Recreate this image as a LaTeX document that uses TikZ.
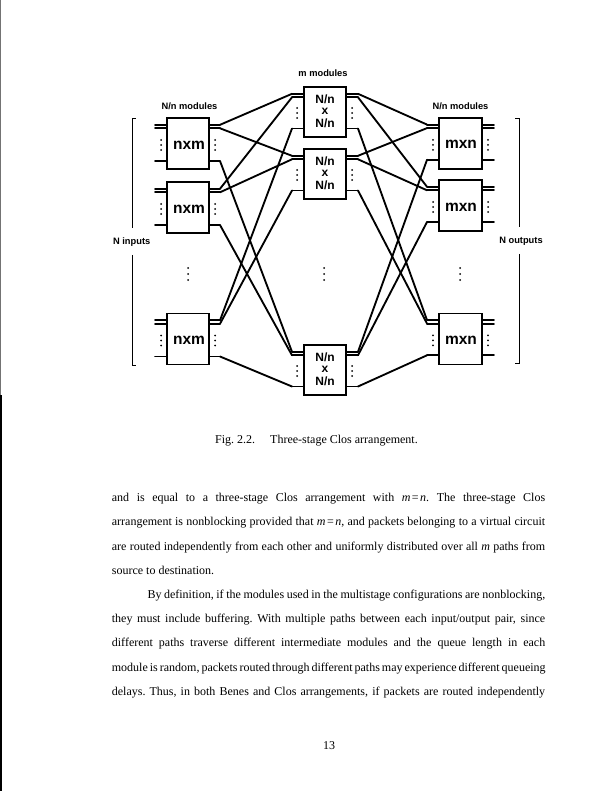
\documentclass[tikz,border=0pt]{standalone}
\usepackage{fontspec}
\setmainfont{Liberation Serif}
\setsansfont{Liberation Sans}
\newcommand{\meqn}{\textit{m}\kern1.5pt=\kern1.5pt\textit{n}}
\begin{document}
\frenchspacing
\begin{tikzpicture}[x=1pt,y=-1pt,
  modbox/.style={draw, line width=1.5pt, minimum width=42pt, minimum height=51pt, inner sep=0pt},
  midbox/.style={modbox, minimum height=50pt},
  wire/.style={line width=1.85pt, line cap=round},
  lbl/.style={font=\sffamily\bfseries\fontsize{9.3}{11}\selectfont, inner sep=0pt},
  big/.style={font=\sffamily\bfseries\fontsize{15.5}{16}\selectfont, inner sep=0pt},
  midtxt/.style={font=\sffamily\bfseries\fontsize{12}{12}\selectfont, inner sep=0pt, anchor=base},
  body/.style={font=\fontsize{12}{14}\selectfont, inner sep=0pt, anchor=base west},
  brk/.style={line width=0.9pt},
  dotc/.style={fill=black}]
\useasboundingbox (0,0) rectangle (612,791);
\fill[white] (0,0) rectangle (612,791);

% scan edge
\draw[line width=1.2pt, black!55] (0.8,0) -- (0.8,395);
\draw[line width=2.4pt] (1.2,395) -- (1.2,791);

% ---------- left modules ----------
\foreach \i/\cy in {1/143.5,2/207.5,3/339}{
  \node[modbox] (L\i) at (188,\cy) {};
  \node[big] (tL\i) at (189,\cy+1.5) {nxm};
  \foreach \k/\dy in {1/-18.7,2/-15.2,3/17.5}{
    \coordinate (Lin\i\k) at (155,{\cy+(\dy)});
    \coordinate (Lx\i\k) at (209,{\cy+(\dy)});
    \coordinate (Lo\i\k) at (220,{\cy+(\dy)});
    \draw[wire] (Lin\i\k) -- ++(12,0);
    \draw[wire] (Lx\i\k) -- (Lo\i\k);
  }
  \foreach \d in {-5,0,5}{
    \fill (161,{\cy+1.5+\d}) circle (1pt);
    \fill (215,{\cy+1.5+\d}) circle (1pt);
  }
}

% ---------- middle modules ----------
\foreach \j/\cy in {1/112,2/174,3/370}{
  \node[midbox] (M\j) at (325,\cy) {};
  \node[midtxt] (tMa\j) at (325,\cy-8.6) {N/n};
  \node[midtxt] (tMb\j) at (325,\cy+2.3) {x};
  \node[midtxt] (tMc\j) at (325,\cy+15.4) {N/n};
  \foreach \k/\dy in {1/-18.2,2/-14.7,3/16.5}{
    \coordinate (Mi\j\k) at (292,{\cy+(\dy)});
    \coordinate (Mxi\j\k) at (304,{\cy+(\dy)});
    \coordinate (Mxo\j\k) at (346,{\cy+(\dy)});
    \coordinate (Mo\j\k) at (358,{\cy+(\dy)});
    \draw[wire] (Mi\j\k) -- (Mxi\j\k);
    \draw[wire] (Mxo\j\k) -- (Mo\j\k);
  }
  \foreach \d in {-5,0,5}{
    \fill (297,{\cy+1+\d}) circle (1pt);
    \fill (352,{\cy+1+\d}) circle (1pt);
  }
}

% ---------- right modules ----------
\foreach \j/\cy in {1/143.3,2/205.5,3/338.8}{
  \node[modbox, minimum width=43pt] (R\j) at (460.5,\cy) {};
  \node[big] (tR\j) at (461,\cy+1.5) {mxn};
  \foreach \k/\dy in {1/-18.7,2/-15.2,3/16.5}{
    \coordinate (Ri\j\k) at (427,{\cy+(\dy)});
    \coordinate (Rxi\j\k) at (439,{\cy+(\dy)});
    \coordinate (Rxo\j\k) at (482,{\cy+(\dy)});
    \coordinate (Rout\j\k) at (494,{\cy+(\dy)});
    \draw[wire] (Ri\j\k) -- (Rxi\j\k);
    \draw[wire] (Rxo\j\k) -- (Rout\j\k);
  }
  \foreach \d in {-5,0,5}{
    \fill (433,{\cy+1.5+\d}) circle (1pt);
    \fill (488,{\cy+1.5+\d}) circle (1pt);
  }
}

% ---------- interconnections ----------
\foreach \i in {1,2,3}{
  \foreach \k in {1,2,3}{
    \draw[wire] (Lo\i\k) -- (Mi\k\i);
    \draw[wire] (Mo\i\k) -- (Ri\k\i);
  }
}

% column dots
\foreach \x in {188,324,460}{
  \foreach \d in {-6,0,6}{
    \fill (\x,{274+\d}) circle (1pt);
  }
}

% brackets
\draw[brk] (135.5,118) -- (132,118) -- (132,228);
\draw[brk] (132,255) -- (132,365) -- (136,365);
\draw[brk] (515,118) -- (519,118) -- (519,227);
\draw[brk] (519,254) -- (519,363) -- (515,363);

% labels
\node[lbl] (lm) at (323,73.3) {m modules};
\node[lbl] (ll) at (189.5,106) {N/n modules};
\node[lbl] (lr) at (460.5,106) {N/n modules};
\node[lbl] (lin) at (131.7,242) {N inputs};
\node[lbl] (lout) at (521,241) {N outputs};

% caption
\node[body] (cap1) at (215,443) {Fig. 2.2.};
\node[body] (cap2) at (270,443) {Three-stage Clos arrangement.};

% body text
\node[body] (b1) at (111.7,501.6) {\makebox[433.3pt][s]{and is equal to a three-stage Clos arrangement with \meqn. The three-stage Clos}};
\node[body] (b2) at (111.7,525.8) {\makebox[433.3pt][s]{arrangement is nonblocking provided that \meqn, and packets belonging to a virtual circuit}};
\node[body] (b3) at (111.7,550.0) {\makebox[433.3pt][s]{are routed independently from each other and uniformly distributed over all \textit{m} paths from}};
\node[body] (b4) at (111.7,574.2) {source to destination.};
\node[body] (b5) at (147.3,598.4) {\makebox[397.7pt][s]{By definition, if the modules used in the multistage configurations are nonblocking,}};
\node[body] (b6) at (111.7,622.6) {\makebox[433.3pt][s]{they must include buffering. With multiple paths between each input/output pair, since}};
\node[body] (b7) at (111.7,646.8) {\makebox[433.3pt][s]{different paths traverse different intermediate modules and the queue length in each}};
\node[body] (b8) at (111.7,671.0) {\makebox[433.3pt][s]{module is random, packets routed through different paths may experience different queueing}};
\node[body] (b9) at (111.7,695.2) {\makebox[433.3pt][s]{delays. Thus, in both Benes and Clos arrangements, if packets are routed independently}};
\node[body, anchor=base] (pg) at (329,749) {13};
\end{tikzpicture}
\end{document}
